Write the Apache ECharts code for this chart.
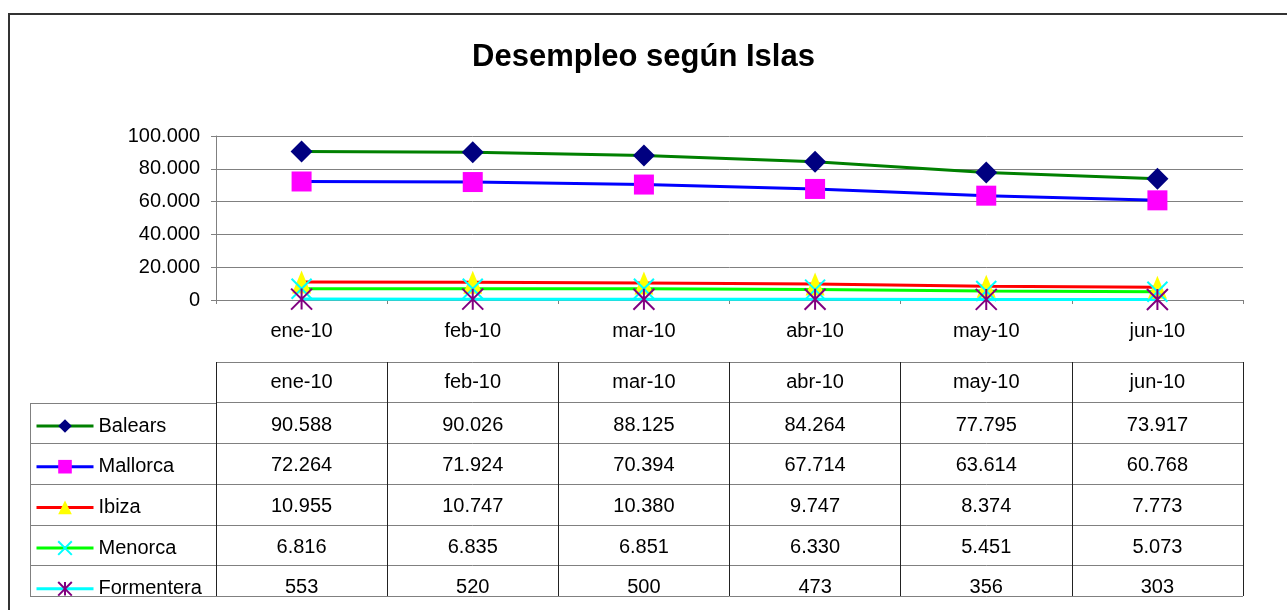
<!DOCTYPE html>
<html><head><meta charset="utf-8">
<script src="https://cdn.jsdelivr.net/npm/echarts@6/dist/echarts.min.js"></script>
<style>html,body{margin:0;padding:0;background:#fff}#c{width:1287px;height:610px}</style>
</head><body><div id="c"></div>
<script>
// ---- data ----
const title = 'Desempleo según Islas';
const categories = ['ene-10', 'feb-10', 'mar-10', 'abr-10', 'may-10', 'jun-10'];
const seriesNames = ['Balears', 'Mallorca', 'Ibiza', 'Menorca', 'Formentera'];
const balears = [90588, 90026, 88125, 84264, 77795, 73917];
const mallorca = [72264, 71924, 70394, 67714, 63614, 60768];
const ibiza = [10955, 10747, 10380, 9747, 8374, 7773];
const menorca = [6816, 6835, 6851, 6330, 5451, 5073];
const formentera = [553, 520, 500, 473, 356, 303];
const yMin = 0, yMax = 100000, yInterval = 20000;

const allValues = [balears, mallorca, ibiza, menorca, formentera];

// ---- styles ----
const FONT = 'Liberation Sans, Arial, sans-serif';
const styles = [
  { line: '#008000', fill: '#000080', symbol: 'diamond', size: 22, stroke: false },
  { line: '#0000FF', fill: '#FF00FF', symbol: 'rect', size: 20, stroke: false },
  { line: '#FF0000', fill: '#FFFF00', symbol: 'triangle', size: [19, 23], stroke: false },
  { line: '#00FF00', fill: '#00FFFF', symbol: 'path://M0 0L10 10M10 0L0 10', size: 20, stroke: true },
  { line: '#00FFFF', fill: '#800080', symbol: 'path://M0 0L10 10M10 0L0 10M5 0L5 10', size: 21, stroke: true }
];
function fmt(v) { return String(v).replace(/\B(?=(\d{3})+(?!\d))/g, '.'); }

const plotLeft = 216, plotRight = 44;
const tableLeft = 30;

const series = [];
seriesNames.forEach((name, i) => {
  const s = styles[i];
  series.push({
    name: name, type: 'line', xAxisIndex: 0, yAxisIndex: 0,
    data: allValues[i],
    symbol: s.symbol, symbolSize: s.size,
    showAllSymbol: true,
    lineStyle: { color: s.line, width: 3 },
    itemStyle: { color: s.fill, borderColor: s.fill, borderWidth: s.stroke ? 2 : 0 },
    emphasis: { disabled: true },
    animation: false
  });
});
const cellLabel = { show: true, position: 'inside', color: '#000', fontSize: 20, fontFamily: FONT,
  textBorderWidth: 0, opacity: 1 };
// table header
series.push({
  name: '_header', type: 'scatter', xAxisIndex: 1, yAxisIndex: 1,
  symbolSize: 0, itemStyle: { color: '#000', opacity: 1 }, silent: true,
  data: categories.map(c => [c, 0.5]),
  label: Object.assign({}, cellLabel, { formatter: p => categories[p.dataIndex] }),
  emphasis: { disabled: true },
  animation: false
});
seriesNames.forEach((name, i) => {
  series.push({
    name: '_row' + i, type: 'scatter', xAxisIndex: 1, yAxisIndex: 1,
    symbolSize: 0, itemStyle: { color: '#000', opacity: 1 }, silent: true,
    data: categories.map((c, j) => [c, i + 1.5, allValues[i][j]]),
    label: Object.assign({}, cellLabel, { offset: [0, 2], formatter: p => fmt(allValues[i][p.dataIndex]) }),
    emphasis: { disabled: true },
    animation: false
  });
});

const chart = echarts.init(document.getElementById('c'), null, { renderer: 'canvas' });
const option = {
  backgroundColor: '#fff',
  animation: false,
  title: {
    text: title, left: 'center', top: 37,
    textStyle: { fontFamily: FONT, fontSize: 31, fontWeight: 'bold', color: '#000' }
  },
  legend: {
    data: seriesNames, orient: 'vertical', left: tableLeft + 5, top: 416, padding: 0,
    itemWidth: 57, itemHeight: 17, itemGap: 20.7,
    lineStyle: { width: 3 },
    textStyle: { fontFamily: FONT, fontSize: 20, color: '#000', lineHeight: 20 },
    selectedMode: false
  },
  grid: [
    { left: plotLeft, right: plotRight, top: 136, bottom: 310 },
    { left: plotLeft, right: plotRight, top: 362, bottom: 14 }
  ],
  xAxis: [
    { type: 'category', gridIndex: 0, data: categories, boundaryGap: true,
      axisLine: { lineStyle: { color: '#808080', width: 1 } },
      axisTick: { show: true, length: 4, interval: 0, lineStyle: { color: '#808080' } },
      axisLabel: { color: '#000', fontSize: 20, fontFamily: FONT, margin: 21, lineHeight: 20, interval: 0 } },
    { type: 'category', gridIndex: 1, data: categories, boundaryGap: true,
      axisLine: { show: false }, axisTick: { show: false }, axisLabel: { show: false },
      splitLine: { show: true, interval: 0, lineStyle: { color: '#222', width: 1 } } }
  ],
  yAxis: [
    { type: 'value', gridIndex: 0, min: yMin, max: yMax, interval: yInterval,
      axisLine: { show: true, lineStyle: { color: '#808080', width: 1 } },
      axisTick: { show: true, length: 5, lineStyle: { color: '#808080' } },
      splitLine: { show: true, lineStyle: { color: '#808080', width: 1 } },
      axisLabel: { color: '#000', fontSize: 20, fontFamily: FONT, margin: 16, formatter: v => fmt(v) } },
    { type: 'value', gridIndex: 1, inverse: true, min: 0, max: 5.75, interval: 1,
      axisLine: { show: false }, axisTick: { show: false }, axisLabel: { show: false },
      splitLine: { show: true, lineStyle: { color: '#808080', width: 1 } } }
  ],
  series: series
};
chart.setOption(option);

// table legend column borders, positioned from the table's row axis
const rowBounds = [1, 2, 3, 4, 5, 5.75].map(v => chart.convertToPixel({ yAxisIndex: 1 }, v));
const graphics = [];
rowBounds.forEach(y => {
  const yy = Math.round(y) + 0.5;
  graphics.push({ type: 'line', silent: true, z: 5,
    shape: { x1: tableLeft, y1: yy, x2: plotLeft, y2: yy },
    style: { stroke: '#808080', lineWidth: 1 } });
});
graphics.push({ type: 'line', silent: true, z: 5,
  shape: { x1: tableLeft + 0.5, y1: Math.round(rowBounds[0]), x2: tableLeft + 0.5, y2: Math.round(rowBounds[rowBounds.length - 1]) + 1 },
  style: { stroke: '#808080', lineWidth: 1 } });
graphics.push({ type: 'rect', silent: true, z: 0,
  shape: { x: 9, y: 14, width: 1400, height: 800 },
  style: { fill: null, stroke: '#333', lineWidth: 2 } });
chart.setOption({ graphic: graphics });
</script>
</body></html>
